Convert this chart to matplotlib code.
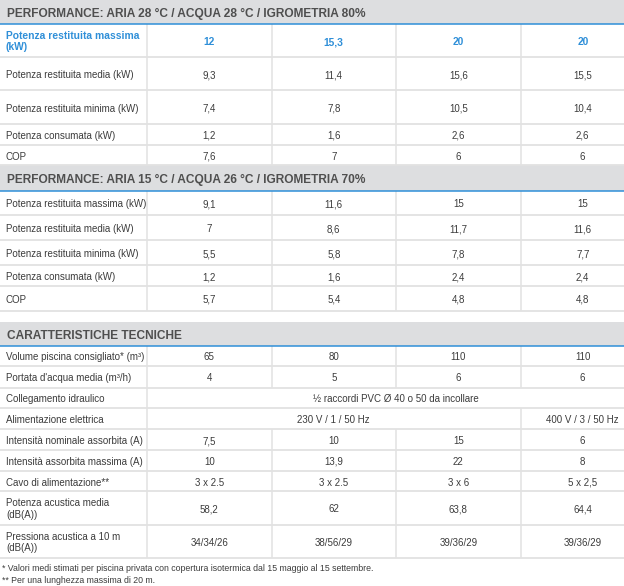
import matplotlib
matplotlib.use("Agg")
import matplotlib.pyplot as plt
from matplotlib.patches import Rectangle

plt.rcParams['font.family'] = ['Liberation Sans', 'DejaVu Sans']

# --- dati tabella ---
titolo_1 = "PERFORMANCE: ARIA 28 °C / ACQUA 28 °C / IGROMETRIA 80%"
etichette_1 = ["Potenza restituita massima\n(kW)", "Potenza restituita media (kW)",
               "Potenza restituita minima (kW)", "Potenza consumata (kW)", "COP"]
valori_1 = [["12", "15,3", "20", "20"],
            ["9,3", "11,4", "15,6", "15,5"],
            ["7,4", "7,8", "10,5", "10,4"],
            ["1,2", "1,6", "2,6", "2,6"],
            ["7,6", "7", "6", "6"]]

titolo_2 = "PERFORMANCE: ARIA 15 °C / ACQUA 26 °C / IGROMETRIA 70%"
etichette_2 = ["Potenza restituita massima (kW)", "Potenza restituita media (kW)",
               "Potenza restituita minima (kW)", "Potenza consumata (kW)", "COP"]
valori_2 = [["9,1", "11,6", "15", "15"],
            ["7", "8,6", "11,7", "11,6"],
            ["5,5", "5,8", "7,8", "7,7"],
            ["1,2", "1,6", "2,4", "2,4"],
            ["5,7", "5,4", "4,8", "4,8"]]

titolo_3 = "CARATTERISTICHE TECNICHE"
etichette_3 = ["Volume piscina consigliato* (m³)", "Portata d'acqua media (m³/h)",
               "Collegamento idraulico", "Alimentazione elettrica",
               "Intensità nominale assorbita (A)", "Intensità assorbita massima (A)",
               "Cavo di alimentazione**", "Potenza acustica media\n(dB(A))",
               "Pressiona acustica a 10 m\n(dB(A))"]
# celle unite: (testo, numero di colonne)
valori_3 = [["65", "80", "110", "110"],
            ["4", "5", "6", "6"],
            [("½ raccordi PVC Ø 40 o 50 da incollare", 4)],
            [("230 V / 1 / 50 Hz", 3), ("400 V / 3 / 50 Hz", 1)],
            ["7,5", "10", "15", "6"],
            ["10", "13,9", "22", "8"],
            ["3 x 2.5", "3 x 2.5", "3 x 6", "5 x 2,5"],
            ["58,2", "62", "63,8", "64,4"],
            ["34/34/26", "38/56/29", "39/36/29", "39/36/29"]]

note = ["* Valori medi stimati per piscina privata con copertura isotermica dal 15 maggio al 15 settembre.",
        "** Per una lunghezza massima di 20 m."]

# --- layout (pixel) ---
W, H = 624, 586
x_col0 = 147
col_w = 124.5
grigio_head = "#dddee0"
blu = "#2f8fd8"
linea = "#e2e2e2"
testo = "#3c3c3c"

fig = plt.figure(figsize=(6.24, 5.86), dpi=100)
ax = fig.add_axes([0, 0, 1, 1])
ax.set_xlim(0, W)
ax.set_ylim(H, 0)
ax.axis('off')


def scrivi(x, yc, t, fs, ha='left', **kw):
    # allinea sulla linea di base: centro delle maiuscole al centro della cella
    px = fs * 100 / 72
    if "\n" in t:
        ax.text(x, yc + 1, t, fontsize=fs, ha=ha, va='center', linespacing=1.2, **kw)
    else:
        ax.text(x, yc + 0.36 * px + 1, t, fontsize=fs, ha=ha, va='baseline', **kw)


def sezione(y0, h_head, titolo, etichette, righe, altezze, evidenzia=False):
    ax.add_patch(Rectangle((0, y0), W, h_head, color=grigio_head, lw=0))
    scrivi(7, y0 + h_head / 2, titolo, 8.55, fontweight='bold', color="#4f4f4f")
    y = y0 + h_head
    top = y
    for i, (et, celle, h) in enumerate(zip(etichette, righe, altezze)):
        bold = evidenzia and i == 0
        col = blu if bold else testo
        fw = 'bold' if bold else 'normal'
        fs = 7.4 if bold else 7.0
        scrivi(6, y + h / 2, et, fs, fontweight=fw, color=col)
        c = 0
        for cella in celle:
            if isinstance(cella, tuple):
                t, span = cella
            else:
                t, span = cella, 1
            xa = x_col0 + c * col_w
            xb = xa + span * col_w
            scrivi((xa + xb) / 2, y + h / 2, t, fs, ha='center', fontweight=fw, color=col)
            ax.plot([xa, xa], [y, y + h], color=linea, lw=1.1, solid_capstyle='butt')
            c += span
        y += h
        ax.plot([0, W], [y, y], color=linea, lw=1.3, solid_capstyle='butt')
    ax.plot([0, W], [top, top], color=blu, lw=1.1, solid_capstyle='butt')
    return y


sezione(0, 24, titolo_1, etichette_1, valori_1, [33, 33, 34, 21, 20], evidenzia=True)
sezione(165, 25.5, titolo_2, etichette_2, valori_2, [24.5, 25, 25.3, 20.4, 25])
sezione(322, 24, titolo_3, etichette_3, valori_3,
        [20, 21.7, 20.3, 21, 21, 20.7, 20.6, 33.4, 33.6])

scrivi(2, 566.5, note[0], 6.35, color=testo)
scrivi(2, 578.5, note[1], 6.35, color=testo)

fig.savefig("out.png", dpi=100, facecolor="white")
